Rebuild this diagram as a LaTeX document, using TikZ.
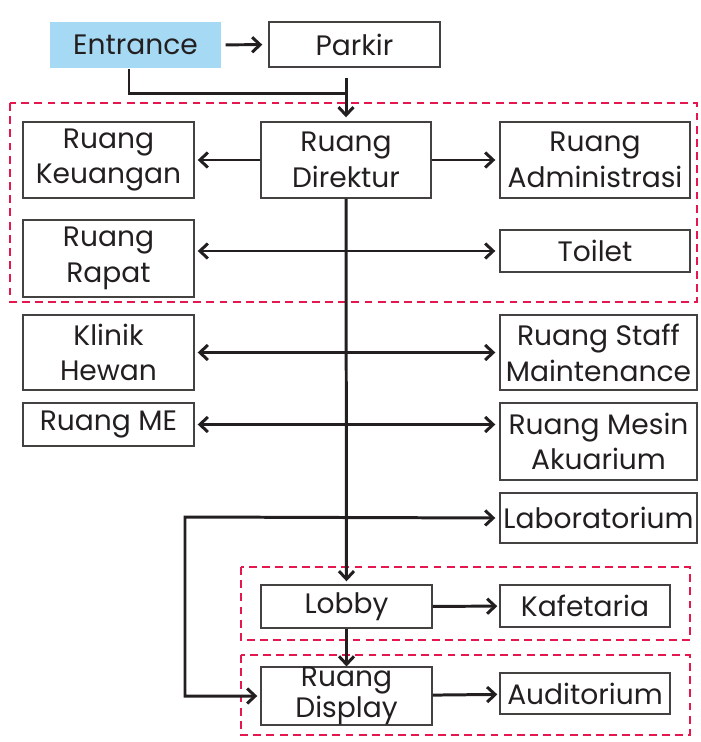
\documentclass[tikz,border=0pt]{standalone}
\usepackage{fontspec}
\setmainfont{Poppins}
\usetikzlibrary{arrows.meta}
\definecolor{tinta}{HTML}{231F20}
\definecolor{biru}{HTML}{A6DAF4}
\definecolor{zona}{HTML}{E5174F}
\begin{document}
\begin{tikzpicture}[x=0.2mm, y=-0.2mm,
    kotak/.style={draw=tinta!85, line width=.8pt, inner sep=0pt, align=center, text=tinta,
        font=\fontsize{16}{20.4}\selectfont},
    panah/.style={tinta, line width=1.7pt, -{Straight Barb[length=1.6mm,width=3mm]}},
    panahdua/.style={tinta, line width=1.7pt, {Straight Barb[length=1.6mm,width=3mm]}-{Straight Barb[length=1.6mm,width=3mm]}},
    garis/.style={tinta, line width=1.7pt},
    batas/.style={zona, line width=1.6pt, dash pattern=on 4.5pt off 3pt}]
    \useasboundingbox (0,0) rectangle (700,742);
    %Zona
    \draw[batas] (10,103) rectangle (697,302);
    \draw[batas] (241,567) rectangle (690,640);
    \draw[batas] (241,655) rectangle (690,735);
    %Depan
    \node[kotak, draw=none, fill=biru, minimum width=34.2mm, minimum height=9.2mm] (entrance) at (135.5,45) {Entrance};
    \node[kotak, minimum width=34.2mm, minimum height=9mm] (parkir) at (354.5,44.5) {Parkir};
    %Kantor
    \node[kotak, minimum width=34.2mm, minimum height=15.2mm] (keuangan) at (108.5,160) {Ruang\\Keuangan};
    \node[kotak, minimum width=34mm, minimum height=15.2mm] (direktur) at (346,160) {Ruang\\Direktur};
    \node[kotak, minimum width=38mm, minimum height=15.2mm] (admin) at (595,160) {Ruang\\Administrasi};
    \node[kotak, minimum width=34.2mm, minimum height=15.4mm] (rapat) at (108.5,258.5) {Ruang\\Rapat};
    \node[kotak, minimum width=38mm, minimum height=8.4mm] (toilet) at (595,251) {Toilet};
    %Servis
    \node[kotak, minimum width=34.2mm, minimum height=15mm] (klinik) at (108.5,352.5) {Klinik\\Hewan};
    \node[kotak, minimum width=39.4mm, minimum height=15mm] (staff) at (598.5,352.5) {Ruang Staff\\Maintenance};
    \node[kotak, minimum width=34.2mm, minimum height=8.6mm] (me) at (108.5,424.5) {Ruang ME};
    \node[kotak, minimum width=39.4mm, minimum height=15.4mm] (mesin) at (598.5,441.5) {Ruang Mesin\\Akuarium};
    \node[kotak, minimum width=39.4mm, minimum height=10mm] (lab) at (598.5,518) {Laboratorium};
    %Publik
    \node[kotak, minimum width=34.2mm, minimum height=8.6mm] (lobby) at (346.5,606.5) {Lobby};
    \node[kotak, minimum width=34mm, minimum height=8.4mm] (kafe) at (585,606) {Kafetaria};
    \node[kotak, minimum width=34.2mm, minimum height=11.2mm, font=\fontsize{16}{14.7}\selectfont] (display) at (346.5,696) {Ruang\\Display};
    \node[kotak, minimum width=34mm, minimum height=8.2mm] (audit) at (585,693.5) {Auditorium};
    %Alur
    \coordinate (temu) at (346,94);
    \coordinate (belok) at (185,517);
    \draw[panah, shorten <=0.8mm, shorten >=1.2mm] (entrance) -- (parkir);
    \draw[garis] ([xshift=-1.3mm]entrance.south) |- (temu);
    \draw[panah, shorten >=0.8mm] ([yshift=-2mm]parkir.south -| direktur.north) -- (direktur.north);
    \draw[panah, shorten >=0.6mm] (direktur) -- (keuangan);
    \draw[panah, shorten >=0.8mm] (direktur) -- (admin);
    \draw[panah, shorten >=0.6mm] (direktur) -- (lobby);
    \draw[panahdua, shorten <=0.6mm, shorten >=0.8mm] (rapat.east |- toilet.west) -- (toilet.west);
    \draw[panahdua, shorten <=0.6mm, shorten >=0.8mm] (klinik) -- (staff);
    \draw[panahdua, shorten <=0.6mm, shorten >=0.8mm] (me.east) -- (me.east -| mesin.west);
    \draw[panahdua, shorten <=0.8mm, shorten >=0.6mm] (lab.west) -- (belok) |- (display.west);
    \draw[panah, shorten >=0.4mm] (lobby) -- (kafe);
    \draw[panah] (lobby) -- (display);
    \draw[panah, shorten >=0.4mm] (display) -- (audit);
\end{tikzpicture}
\end{document}
